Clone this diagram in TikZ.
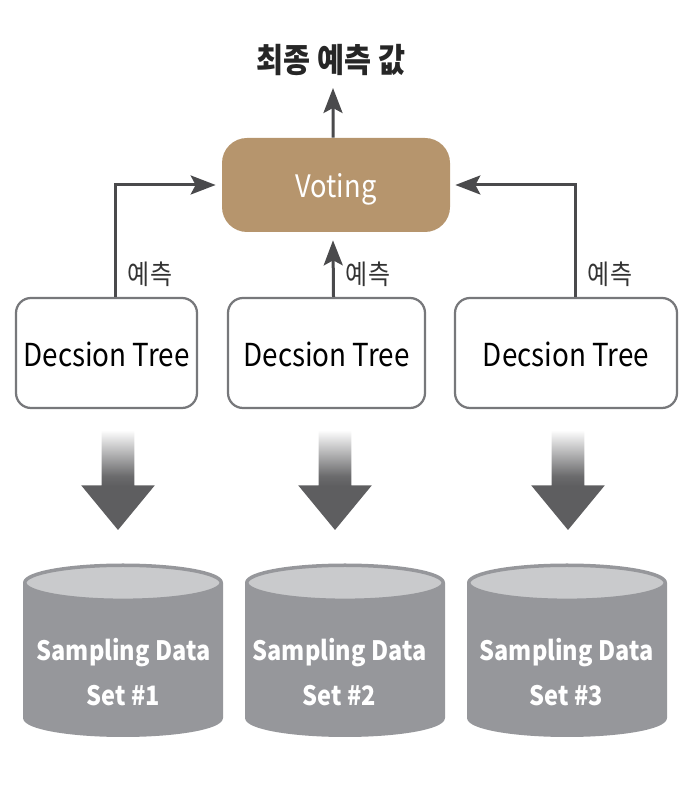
\documentclass[tikz,border=0pt]{standalone}
\usepackage{fontspec}
\setmainfont[FakeStretch=0.88]{Noto Sans CJK KR}
\usetikzlibrary{shapes.geometric,shapes.arrows,arrows.meta,positioning}
\definecolor{votefill}{HTML}{B6956D}
\definecolor{linegray}{HTML}{4A4A4C}
\definecolor{boxgray}{HTML}{77787B}
\definecolor{cylbody}{HTML}{96979B}
\definecolor{cyltop}{HTML}{C9CACC}
\definecolor{headgray}{HTML}{5E5E60}
\pgfdeclareverticalshading{fadedown}{100bp}{color(0bp)=(headgray); color(47bp)=(headgray); color(52bp)=(headgray!92!white); color(75bp)=(white); color(100bp)=(white)}
\tikzset{
    flow/.style = {-{Stealth[length=0.5cm,width=0.38cm,inset=0.1cm]},draw=linegray,line width=0.06cm},
    vote/.style = {rectangle,rounded corners=0.5cm,fill=votefill,text=white,minimum width=4.56cm,minimum height=1.88cm,text height=0.65cm,font=\fontsize{17.6}{20}\selectfont},
    tree/.style = {rectangle,draw=boxgray,line width=0.045cm,fill=white,rounded corners=0.3cm,minimum height=2.2cm,text height=0.54cm,font=\fontsize{18}{20}\selectfont},
    lab/.style = {font=\fontsize{15.5}{18}\selectfont,text=black!80},
    fatarrow/.style = {single arrow,shape border rotate=270,anchor=tail,shading=fadedown,minimum height=2cm,minimum width=1.46cm,inner sep=0.32cm,single arrow head extend=0.41cm,single arrow tip angle=79,outer sep=0pt},
    store/.style = {cylinder,shape border rotate=90,anchor=south,aspect=0.19,text width=3.46cm,text height=1.3cm,minimum width=3.93cm,minimum height=3.4cm,cylinder uses custom fill,cylinder body fill=cylbody,cylinder end fill=cyltop,draw=cylbody,line width=0.07cm},
    storetext/.style = {text=white,align=center,font=\fontsize{15.2}{25.6}\selectfont\bfseries}
}
\begin{document}
\begin{tikzpicture}
    \useasboundingbox (0,0) rectangle (13.84,16.2);

    \node[vote] (voting) at (6.72, 12.5) {Voting};
    \node[font=\fontsize{19}{22}\selectfont\bfseries,text=black!85] (result) at (6.62, 15) {최종 예측 값};
    \coordinate (resulttip) at (6.66, 14.44);

    \node[tree,minimum width=3.62cm] (tree1) at (2.13, 9.14) {Decsion Tree};
    \node[tree,minimum width=3.94cm] (tree2) at (6.53, 9.14) {Decsion Tree};
    \node[tree,minimum width=4.44cm] (tree3) at (11.32, 9.14) {Decsion Tree};

    \node[fatarrow] (down1) at (2.36, 7.6) {};
    \node[fatarrow] (down2) at (6.7, 7.6) {};
    \node[fatarrow] (down3) at (11.36, 7.6) {};

    \node[store] (data1) at (2.46, 1.46) {};
    \node[store] (data2) at (6.9, 1.46) {};
    \node[store] (data3) at (11.34, 1.46) {};

    \node[storetext] (set1) at (2.47, 2.75) {Sampling Data\\Set \#1};
    \node[storetext] (set2) at (6.79, 2.75) {Sampling Data\\Set \#2};
    \node[storetext] (set3) at (11.33, 2.75) {Sampling Data\\Set \#3};

    \node[lab] (pred1) at (3, 10.72) {예측};
    \node[lab] (pred2) at (7.36, 10.72) {예측};
    \node[lab] (pred3) at (12.2, 10.72) {예측};

    \draw[flow] ([xshift=0.17cm]tree1.north) |- ([xshift=-0.12cm]voting.west);
    \draw[flow] ([xshift=0.14cm]tree2.north) -- ([xshift=-0.06cm,yshift=-0.16cm]voting.south);
    \draw[flow] ([xshift=0.18cm]tree3.north) |- ([xshift=0.1cm]voting.east);
    \draw[flow] ([xshift=-0.06cm]voting.north) -- (resulttip);
\end{tikzpicture}
\end{document}
